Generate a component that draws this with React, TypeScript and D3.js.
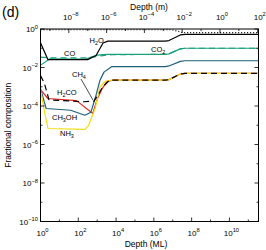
import React from "react";
import * as d3 from "d3";

// ---- data (log10 depth in ML, log10 fractional composition) ----
const totalLogDepth = [0, 6.9, 7.05, 7.45, 7.7, 11.54];
const totalLogFrac = [-0.04, -0.04, -0.06, -0.17, -0.19, -0.19];

const h2oLogDepth = [0, 0.39, 2.5, 2.94, 3.31, 3.57, 6.6, 6.8, 7.4, 7.65, 11.54];
const h2oLogFrac = [-0.72, -1.59, -1.59, -1.38, -0.73, -0.63, -0.63, -0.6, -0.31, -0.28, -0.28];

const co2LogDepth = [0, 0.49, 2.35, 3.0, 3.5, 6.6, 6.8, 7.4, 7.65, 11.54];
const co2LogFrac = [-1.89, -1.55, -1.57, -1.36, -1.32, -1.32, -1.29, -1.03, -1.0, -1.0];

const coLogDepth = [0, 0.5, 2.5, 3.3, 3.8, 6.6, 6.8, 7.4, 7.65, 11.54];
const coLogFrac = [-1.46, -1.5, -1.5, -1.38, -1.33, -1.32, -1.29, -1.03, -1.0, -1.0];

const ch3ohLogDepth = [0, 0.3, 1.6, 2.35, 2.67, 2.94, 3.15, 3.36, 3.78, 6.6, 6.8, 7.4, 7.65, 11.54];
const ch3ohLogFrac = [-3.1, -4.13, -4.22, -4.48, -4.32, -3.44, -2.66, -2.24, -1.95, -1.95, -1.92, -1.68, -1.65, -1.65];

const h2coLogDepth = [0, 0.39, 1.9, 2.77, 3.0, 3.24, 3.5, 3.8, 6.6, 6.8, 7.4, 7.65, 11.54];
const h2coLogFrac = [-3.15, -3.61, -3.72, -4.39, -3.65, -3.14, -2.75, -2.66, -2.66, -2.63, -2.34, -2.31, -2.31];

const nh3LogDepth = [0, 0.25, 0.4, 2.35, 2.55, 2.9, 3.15, 3.45, 3.8, 6.6, 6.8, 7.4, 7.65, 11.54];
const nh3LogFrac = [-3.15, -4.5, -5.17, -5.21, -5.0, -4.1, -3.0, -2.7, -2.66, -2.66, -2.63, -2.34, -2.31, -2.31];

const ch4LogDepth = [0, 0.2, 0.45, 2.3, 2.83, 3.0, 3.3, 3.65, 6.6, 6.8, 7.4, 7.65, 11.54];
const ch4LogFrac = [-2.42, -2.8, -3.68, -3.78, -3.75, -3.5, -3.0, -2.66, -2.66, -2.63, -2.34, -2.31, -2.31];

const bottomTickExps = [0, 2, 4, 6, 8, 10];
const topTickExps = [-8, -6, -4, -2, 0, 2];
const leftTickExps = [0, -2, -4, -6, -8, -10];

const ML_TO_M_EXP = -9.5;

const COLORS = {
  black: "#000000",
  green: "#1a9f7c",
  blue: "#1f5f7e",
  red: "#e8251c",
  yellow: "#f2df14",
};

const W = 266;
const H = 250;
const M = { left: 40.5, right: 258.5, top: 29, bottom: 221.5 };

const FONT = "'Liberation Sans', Arial, Helvetica, sans-serif";

function Pow({ x, y, exp, anchor = "middle", size = 8 }: any) {
  const e = exp < 0 ? "\u2212" + Math.abs(exp) : String(exp);
  return (
    <text x={x} y={y} textAnchor={anchor} fontSize={size} fontFamily={FONT} fill="#000">
      10
      <tspan dy={-size * 0.4} fontSize={size * 0.72}>{e}</tspan>
    </text>
  );
}

function Chem({ x, y, parts, size = 7.5 }: any) {
  const out: any[] = [];
  let prevSub = false;
  parts.forEach((p: any, i: number) => {
    const [t, sub] = p;
    let dy = 0;
    if (sub && !prevSub) dy = size * 0.3;
    if (!sub && prevSub) dy = -size * 0.3;
    out.push(
      <tspan key={i} dy={dy} fontSize={sub ? size * 0.72 : size}>
        {t}
      </tspan>
    );
    prevSub = sub;
  });
  return (
    <text x={x} y={y} fontFamily={FONT} fill="#000">
      {out}
    </text>
  );
}

export default function App() {
  const x = d3.scaleLog().domain([1, Math.pow(10, 11.54)]).range([M.left, M.right]);
  const xTop = d3
    .scaleLog()
    .domain([Math.pow(10, ML_TO_M_EXP), Math.pow(10, 11.54 + ML_TO_M_EXP)])
    .range([M.left, M.right]);
  const y = d3.scaleLog().domain([1e-10, 1]).range([M.bottom, M.top]);

  const line = (ld: number[], lf: number[]) => {
    const pts = ld.map((d, i) => [Math.pow(10, d), Math.pow(10, lf[i])] as [number, number]);
    return d3
      .line<[number, number]>()
      .x((p) => x(p[0]))
      .y((p) => y(p[1]))
      .curve(d3.curveLinear)(pts) as string;
  };

  const series = [
    { d: line(co2LogDepth, co2LogFrac), c: COLORS.green, dash: undefined },
    { d: line(coLogDepth, coLogFrac), c: COLORS.green, dash: "6,4" },
    { d: line(h2coLogDepth, h2coLogFrac), c: COLORS.red, dash: undefined },
    { d: line(ch3ohLogDepth, ch3ohLogFrac), c: COLORS.blue, dash: undefined },
    { d: line(nh3LogDepth, nh3LogFrac), c: COLORS.yellow, dash: undefined },
    { d: line(ch4LogDepth, ch4LogFrac), c: COLORS.black, dash: "6,4" },
    { d: line(h2oLogDepth, h2oLogFrac), c: COLORS.black, dash: undefined },
    { d: line(totalLogDepth, totalLogFrac), c: COLORS.black, dash: "1,2" },
  ];

  const bottomAll = d3.range(0, 12).map((e) => ({ v: Math.pow(10, e), major: e % 2 === 0 }));
  const topAll = d3.range(-9, 3).map((e) => ({ v: Math.pow(10, e), major: e % 2 === 0 }));
  const leftAll = d3.range(-10, 1).map((e) => ({ v: Math.pow(10, e), major: e % 2 === 0 }));

  return (
    <svg width={W} height={H} style={{ position: "absolute", left: 0, top: 0, background: "#fff" }}>
      <rect x={0} y={0} width={W} height={H} fill="#fff" />
      <clipPath id="plotclip">
        <rect x={M.left} y={M.top} width={M.right - M.left} height={M.bottom - M.top} />
      </clipPath>
      <g clipPath="url(#plotclip)">
        {series.map((s, i) => (
          <path key={i} d={s.d} fill="none" stroke={s.c} strokeWidth={1.2} strokeDasharray={s.dash} strokeLinejoin="round" />
        ))}
      </g>

      <rect
        x={M.left}
        y={M.top}
        width={M.right - M.left}
        height={M.bottom - M.top}
        fill="none"
        stroke="#000"
        strokeWidth={1}
      />

      {bottomAll.map((t, i) => (
        <line key={"b" + i} x1={x(t.v)} x2={x(t.v)} y1={M.bottom} y2={M.bottom - (t.major ? 4 : 2)} stroke="#000" strokeWidth={0.8} />
      ))}
      {topAll.map((t, i) => (
        <line key={"t" + i} x1={xTop(t.v)} x2={xTop(t.v)} y1={M.top} y2={M.top + (t.major ? 4 : 2)} stroke="#000" strokeWidth={0.8} />
      ))}
      {leftAll.map((t, i) => (
        <g key={"l" + i}>
          <line x1={M.left} x2={M.left + (t.major ? 4 : 2)} y1={y(t.v)} y2={y(t.v)} stroke="#000" strokeWidth={0.8} />
          <line x1={M.right} x2={M.right - (t.major ? 4 : 2)} y1={y(t.v)} y2={y(t.v)} stroke="#000" strokeWidth={0.8} />
        </g>
      ))}

      {bottomTickExps.map((e) => (
        <Pow key={"bl" + e} x={x(Math.pow(10, e)) + 2} y={235.5} exp={e} />
      ))}
      {topTickExps.map((e) => (
        <Pow key={"tl" + e} x={xTop(Math.pow(10, e)) + 2} y={19.5} exp={e} />
      ))}
      {leftTickExps.map((e) => (
        <Pow key={"ll" + e} x={38} y={y(Math.pow(10, e)) + 3} exp={e} anchor="end" />
      ))}

      <text x={146} y={247} textAnchor="middle" fontSize={8.5} fontFamily={FONT}>
        Depth (ML)
      </text>
      <text x={149} y={10} textAnchor="middle" fontSize={8.5} fontFamily={FONT}>
        Depth (m)
      </text>
      <text
        transform={`translate(10.5,${(M.top + M.bottom) / 2}) rotate(-90)`}
        textAnchor="middle"
        fontSize={8.5}
        fontFamily={FONT}
      >
        Fractional composition
      </text>
      <text x={2} y={17} fontSize={14} fontFamily={FONT}>
        (d)
      </text>

      <Chem x={89.5} y={43} parts={[["H", false], ["2", true], ["O", false]]} />
      <Chem x={64} y={56} parts={[["CO", false]]} />
      <Chem x={151} y={51.5} parts={[["CO", false], ["2", true]]} />
      <Chem x={72} y={77} parts={[["CH", false], ["4", true]]} />
      <Chem x={57} y={95} parts={[["H", false], ["2", true], ["CO", false]]} />
      <Chem x={52} y={120} parts={[["CH", false], ["3", true], ["OH", false]]} />
      <Chem x={60} y={136} parts={[["NH", false], ["3", true]]} />
      <line x1={81} y1={79} x2={93} y2={100} stroke="#000" strokeWidth={0.7} />
    </svg>
  );
}
